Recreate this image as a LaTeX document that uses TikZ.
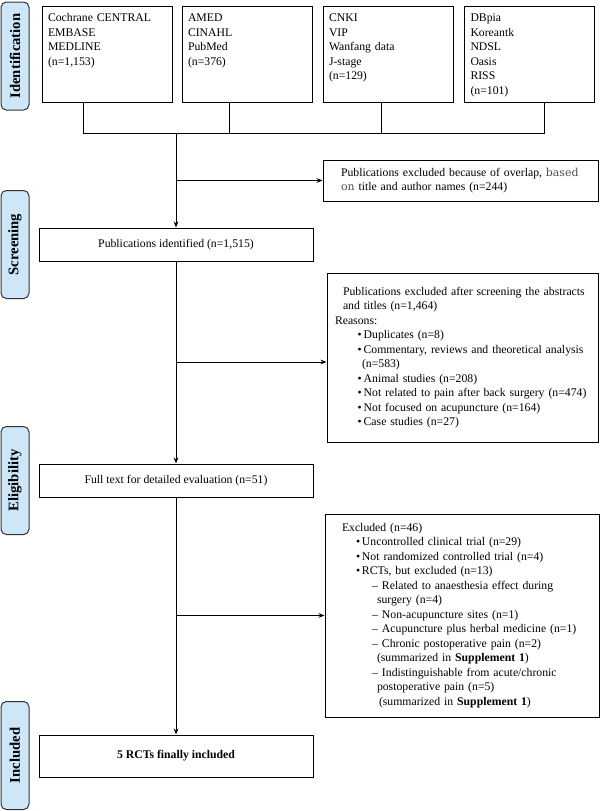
\documentclass[tikz,border=0pt]{standalone}
\usepackage{fontspec}
\setmainfont{Liberation Serif}
\newfontfamily\dvsfont{DejaVu Serif}
\usepackage{tikz}
\usetikzlibrary{arrows.meta}

\definecolor{phaseblue}{RGB}{205,231,249}
\newcommand{\pbul}{\makebox[4.5pt][l]{\textbullet}}
\newcommand{\pdash}{\makebox[7.5pt][l]{--}}
\newcommand{\oddword}[1]{{\dvsfont\fontsize{8.2}{10.8}\selectfont\color{black!70}#1}}

\tikzset{
        phase/.style={draw=black!80, fill=phaseblue, rounded corners=4pt, rotate=90,
                minimum width=81pt, minimum height=21pt, inner sep=0pt,
                font=\fontsize{11}{13}\selectfont\bfseries},
        dbbox/.style={draw, align=left, text width=88.5pt, inner xsep=4.5pt, inner ysep=3pt,
                text height=8.8pt, text depth=57.2pt},
        flowbox/.style={draw, align=center, minimum width=205.5pt, minimum height=24.75pt, inner sep=0pt},
        exclbox/.style={draw, align=left}
}

\begin{document}
\begin{tikzpicture}[x=0.75pt, y=-0.75pt, line width=0.75pt, >={Stealth[length=4.5pt,width=3.5pt]},
        every node/.style={font=\fontsize{8.8}{10.85}\selectfont}]
        \useasboundingbox (0,0) rectangle (602,811);

        % phases
        \node[phase] (idf) at (15,56) {Identification};
        \node[phase] (scr) at (15,244.5) {Screening};
        \node[phase] (elg) at (15,480.5) {Eligibility};
        \node[phase] (inc) at (15,755.5) {Included};

        % databases
        \node[dbbox] (db1) at (107,54) {Cochrane CENTRAL\\EMBASE\\MEDLINE\\(n=1,153)};
        \node[dbbox] (db2) at (247,54) {AMED\\CINAHL\\PubMed\\(n=376)};
        \node[dbbox] (db3) at (388,54) {CNKI\\VIP\\Wanfang data\\J-stage\\(n=129)};
        \node[dbbox] (db4) at (529.5,54) {DBpia\\Koreantk\\NDSL\\Oasis\\RISS\\(n=101)};

        \coordinate (j1) at (83,133);
        \coordinate (j2) at (229,133);
        \coordinate (j3) at (381,133);
        \coordinate (j4) at (544,133);
        \coordinate (m1) at (176,133);
        \draw (db1.south -| j1) -- (j1) -- (j4) -- (db4.south -| j4);
        \draw (db2.south -| j2) -- (j2);
        \draw (db3.south -| j3) -- (j3);

        % screening
        \node[flowbox] (pubid) at (176,244.5) {Publications identified (n=1,515)};
        \node[exclbox, text width=192.25pt, inner xsep=7pt, minimum height=30.75pt] (excl1) at (460.5,180.5)
                {\hspace*{6.5pt}Publications excluded because of overlap, \oddword{based}\\
                \hspace*{6.5pt}\oddword{on} title and author names (n=244)};
        \draw[->] (m1) -- (pubid);
        \draw[->] (m1 |- excl1.west) -- (excl1.west);

        % eligibility
        \node[flowbox] (full) at (176,480.5) {Full text for detailed evaluation (n=51)};
        \node[exclbox, text width=194.25pt, inner xsep=4.5pt, minimum height=126.75pt] (excl2) at (462.5,357.5)
                {\hspace*{7.5pt}Publications excluded after screening the abstracts\\
                \hspace*{7.5pt}and titles (n=1,464)\\
                \hspace*{1.5pt}Reasons:\\
                \hspace*{18.5pt}\pbul Duplicates (n=8)\\
                \hspace*{18.5pt}\pbul Commentary, reviews and theoretical analysis\\
                \hspace*{21.75pt}(n=583)\\
                \hspace*{18.5pt}\pbul Animal studies (n=208)\\
                \hspace*{18.5pt}\pbul Not related to pain after back surgery (n=474)\\
                \hspace*{18.5pt}\pbul Not focused on acupuncture (n=164)\\
                \hspace*{18.5pt}\pbul Case studies (n=27)};
        \coordinate (b2) at (176,362);
        \draw[->] (pubid) -- (full);
        \draw[->] (b2) -- (excl2.west |- b2);

        % included
        \node[flowbox, minimum height=31.5pt, font=\fontsize{8.8}{10.85}\selectfont\bfseries] (final) at (176,756)
                {5 RCTs finally included};
        \node[exclbox, text width=187.5pt, inner xsep=9pt, minimum height=152.25pt] (excl3) at (462,615.5)
                {\hspace*{3.75pt}Excluded (n=46)\\
                \hspace*{14.25pt}\pbul Uncontrolled clinical trial (n=29)\\
                \hspace*{14.25pt}\pbul Not randomized controlled trial (n=4)\\
                \hspace*{14.25pt}\pbul RCTs, but excluded (n=13)\\
                \hspace*{26.25pt}\pdash Related to anaesthesia effect during\\
                \hspace*{30pt}surgery (n=4)\\
                \hspace*{26.25pt}\pdash Non-acupuncture sites (n=1)\\
                \hspace*{26.25pt}\pdash Acupuncture plus herbal medicine (n=1)\\
                \hspace*{26.25pt}\pdash Chronic postoperative pain (n=2)\\
                \hspace*{30pt}(summarized in \textbf{Supplement 1})\\
                \hspace*{26.25pt}\pdash Indistinguishable from acute/chronic\\
                \hspace*{30pt}postoperative pain (n=5)\\
                \hspace*{31.5pt}(summarized in \textbf{Supplement 1})};
        \draw[->] (full) -- (final);
        \draw[->] (full.south |- excl3.west) -- (excl3.west);
      \end{tikzpicture}
\end{document}
